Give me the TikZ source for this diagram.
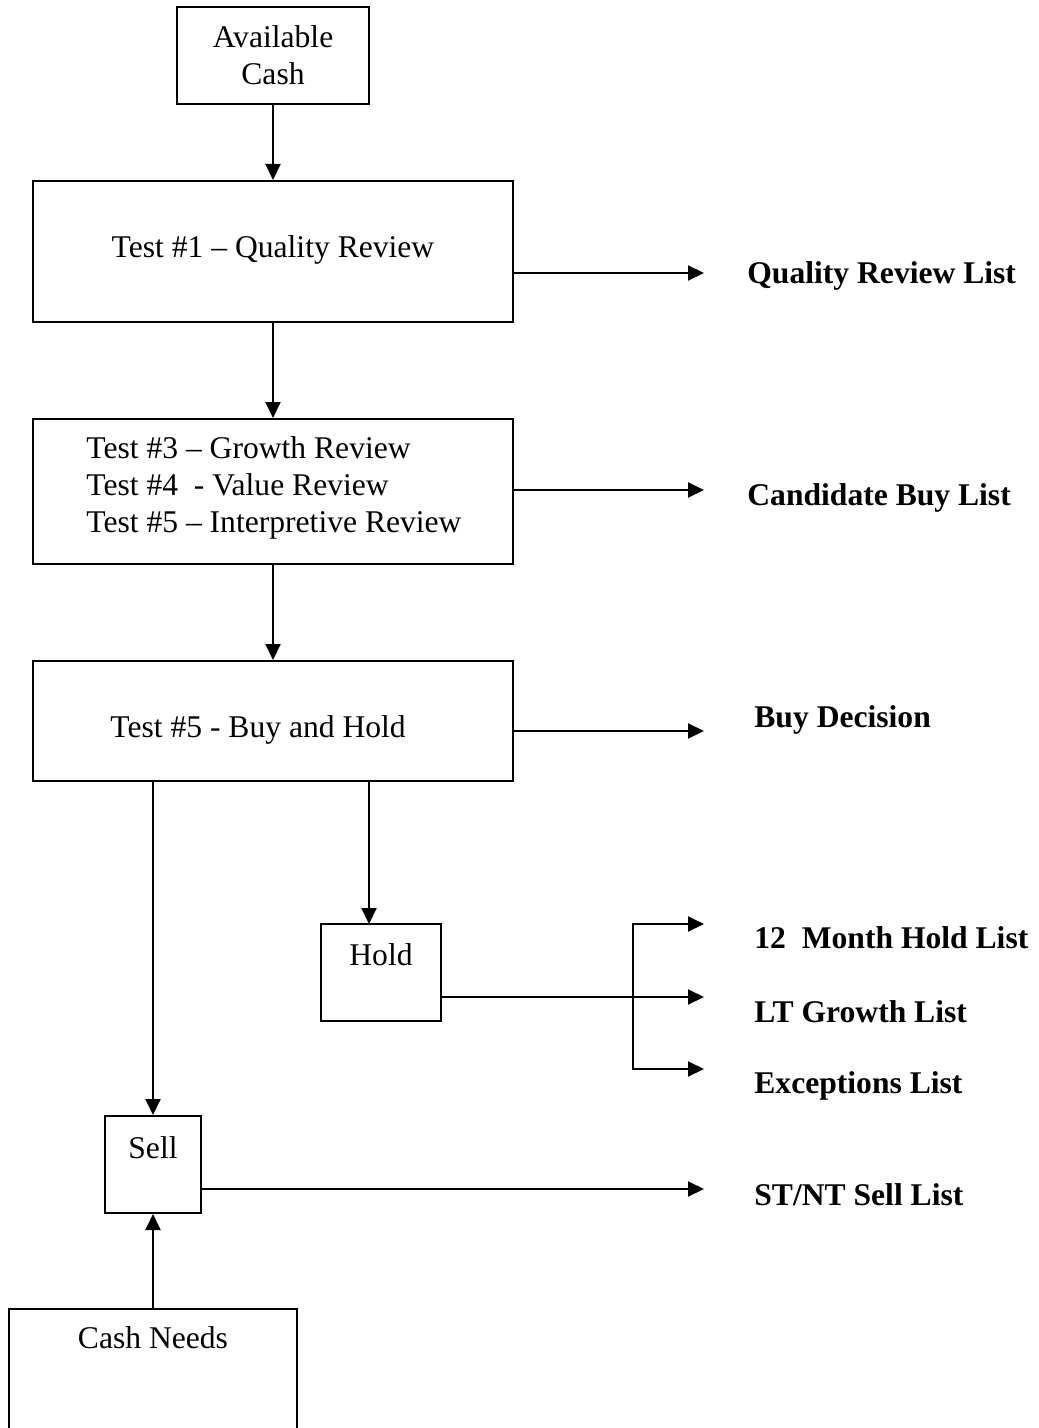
\documentclass[tikz,border=0pt]{standalone}
\usepackage{fontspec}
\setmainfont{Liberation Serif}
\usetikzlibrary{arrows.meta}
\begin{document}
\begin{tikzpicture}[x=0.5pt,y=-0.5pt,
  box/.style={draw, line width=1pt, inner sep=0pt},
  arr/.style={line width=1pt, -{Triangle[length=8pt,width=7.5pt]}},
  txt/.style={inner sep=0pt, anchor=base, font=\fontsize{15.8pt}{18.5pt}\selectfont},
  lbl/.style={inner sep=0pt, anchor=base west, font=\fontsize{15.8pt}{18.5pt}\selectfont\bfseries}]
\clip (0,0) rectangle (1038,1428);
\fill[white] (0,0) rectangle (1038,1428);
% boxes
\node[box, minimum width=96pt, minimum height=48.5pt] (ac) at (273,55.5) {};
\node[txt] (acT1) at (273,48) {Available};
\node[txt] (acT2) at (273,85) {Cash};
\node[box, minimum width=240pt, minimum height=70.5pt] (t1) at (273,251.5) {};
\node[txt] (t1T) at (273,258) {Test \#1 – Quality Review};
\node[box, minimum width=240pt, minimum height=72.5pt] (t2) at (273,491.5) {};
\node[txt, anchor=base west] (t2a) at (86,458) {Test \#3 – Growth Review};
\node[txt, anchor=base west] (t2b) at (86,495) {Test \#4\ \ - Value Review};
\node[txt, anchor=base west] (t2c) at (86,532) {Test \#5 – Interpretive Review};
\node[box, minimum width=240pt, minimum height=60pt] (t3) at (273,721) {};
\node[txt, anchor=base west] (t3T) at (110,737) {Test \#5 - Buy and Hold};
\node[box, minimum width=60pt, minimum height=48.5pt] (hold) at (381,972.5) {};
\node[txt] (holdT) at (381,965) {Hold};
\node[box, minimum width=48pt, minimum height=48.5pt] (sell) at (153,1164.5) {};
\node[txt] (sellT) at (153,1158) {Sell};
\node[box, minimum width=144pt, minimum height=76pt] (cash) at (153,1385) {};
\node[txt] (cashT) at (153,1348) {Cash Needs};
% labels
\node[lbl] (qrl) at (747,284) {Quality Review List};
\node[lbl] (cbl) at (747,505) {Candidate Buy List};
\node[lbl] (bd) at (754,727) {Buy Decision};
\node[lbl] (mhl) at (754,948) {12\ \ Month Hold List};
\node[lbl] (ltg) at (754,1022) {LT Growth List};
\node[lbl] (exc) at (754,1093) {Exceptions List};
\node[lbl] (stnt) at (754,1205) {ST/NT Sell List};
% coordinates
\coordinate (qrlTip) at (704,273);
\coordinate (cblTip) at (704,490);
\coordinate (bdTip) at (704,731);
\coordinate (mhlTip) at (704,924);
\coordinate (ltgTip) at (704,997);
\coordinate (excTip) at (704,1069);
\coordinate (stntTip) at (704,1189);
\coordinate (holdIn) at (369,924);
\coordinate (brJ) at (633,997);
\coordinate (brTop) at (633,924);
\coordinate (brBot) at (633,1069);
% connectors
\draw[arr] (ac.south) -- (t1.north);
\draw[arr] (t1.south) -- (t2.north);
\draw[arr] (t2.south) -- (t3.north);
\draw[arr] (t1.east |- qrlTip) -- (qrlTip);
\draw[arr] (t2.east |- cblTip) -- (cblTip);
\draw[arr] (t3.east |- bdTip) -- (bdTip);
\draw[arr] (t3.south -| sell.north) -- (sell.north);
\draw[arr] (t3.south -| holdIn) -- (holdIn);
\draw[arr] (hold.east |- ltgTip) -- (ltgTip);
\draw[arr] (brJ) -- (brTop) -- (mhlTip);
\draw[arr] (brJ) -- (brBot) -- (excTip);
\draw[arr] (sell.east |- stntTip) -- (stntTip);
\draw[arr] (cash.north) -- (sell.south);
\end{tikzpicture}
\end{document}
